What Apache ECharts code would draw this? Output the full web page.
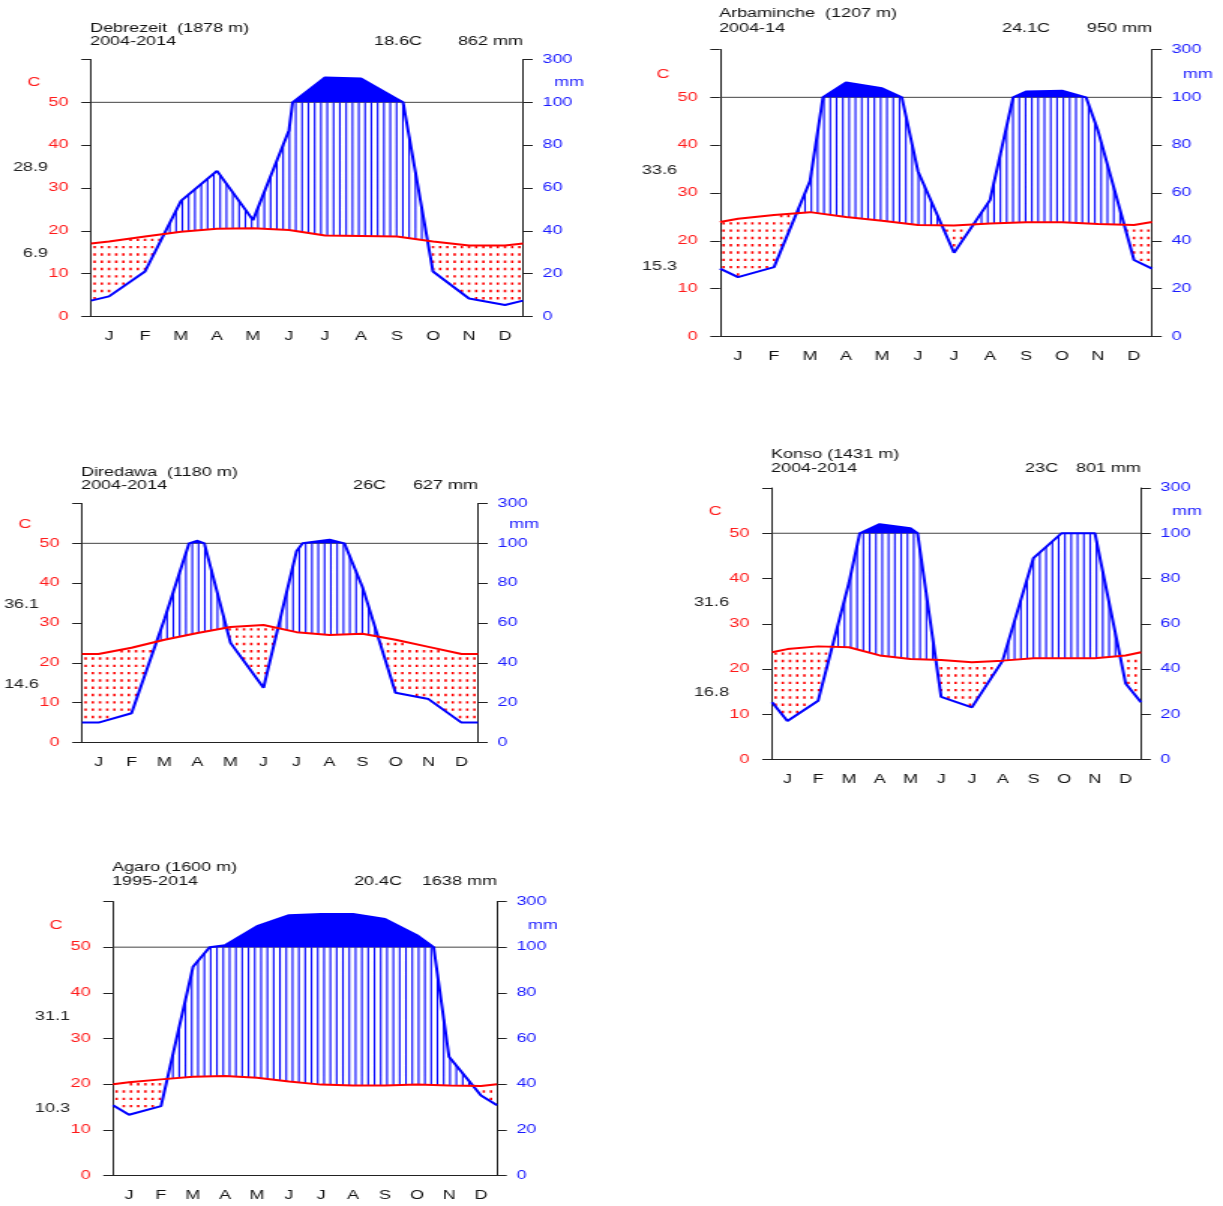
<!DOCTYPE html>
<html>
<head>
<meta charset="utf-8">
<title>Climate diagrams</title>
<script src="https://cdn.jsdelivr.net/npm/echarts@6/dist/echarts.min.js"></script>
<style>
  html, body { margin: 0; padding: 0; background: #fff; overflow: hidden; }
  /* the reference is stretched sideways, so draw narrow and widen */
  #main { width: 815px; height: 1206px; transform: scaleX(1.500613); transform-origin: 0 0; }
</style>
</head>
<body>
<div id="main"></div>
<script>
var months = ["J", "F", "M", "A", "M", "J", "J", "A", "S", "O", "N", "D"];

// monthly mean temperature (C) and precipitation (mm)
var debrezeitTemp = [17.5, 18.7, 19.8, 20.5, 20.6, 20.2, 18.9, 18.8, 18.7, 17.5, 16.6, 16.6];
var debrezeitPrec = [9.4, 21, 54, 68, 45, 87, 216, 211, 116, 21, 8.4, 5.4];
var arbamincheTemp = [24.6, 25.4, 26.0, 25.0, 24.2, 23.3, 23.2, 23.6, 23.9, 23.9, 23.5, 23.3];
var arbaminchePrec = [24.8, 29, 65, 162, 138, 69, 35, 57, 124, 128, 86, 32];
var diredawaTemp = [22.2, 23.8, 25.8, 27.5, 29.0, 29.5, 27.7, 27.0, 27.3, 25.8, 24.0, 22.2];
var diredawaPrec = [10, 14.7, 62, 113, 50, 27.5, 96, 118, 78, 25, 21.8, 10];
var konsoTemp = [24.4, 25.0, 24.8, 23.0, 22.2, 22.0, 21.5, 21.85, 22.4, 22.4, 22.4, 23.0];
var konsoPrec = [17, 26, 78, 140, 122, 27.7, 23, 43.7, 89, 101, 100, 33.6];
var agaroTemp = [20.4, 21.05, 21.6, 21.8, 21.4, 20.6, 19.9, 19.7, 19.7, 19.9, 19.7, 19.6];
var agaroPrec = [26.6, 30.4, 91.4, 108, 192, 240, 245, 245, 223, 152, 52, 35];

var stationNames = ["Debrezeit  (1878 m)", "Arbaminche  (1207 m)", "Diredawa  (1180 m)", "Konso (1431 m)", "Agaro (1600 m)"];
var stationYears = ["2004-2014", "2004-14", "2004-2014", "2004-2014", "1995-2014"];
var meanTemps = ["18.6C", "24.1C", "26C", "23C", "20.4C"];
var totalPrecs = ["862 mm", "950 mm", "627 mm", "801 mm", "1638 mm"];
var maxLabels = ["28.9", "33.6", "36.1", "31.6", "31.1"];
var minLabels = ["6.9", "15.3", "14.6", "16.8", "10.3"];

var temps = [debrezeitTemp, arbamincheTemp, diredawaTemp, konsoTemp, agaroTemp];
var precs = [debrezeitPrec, arbaminchePrec, diredawaPrec, konsoPrec, agaroPrec];

// layout, in pixels of the final picture
var SX = 1223 / 815;
var boxes = [
  { left: 91, right: 523, top: 59.5, bottom: 316.5, titleY: 27, subY: 40, tempX: 374 },
  { left: 720, right: 1152, top: 49.5, bottom: 336.5, titleY: 12, subY: 27, tempX: 1002 },
  { left: 82, right: 478, top: 503.5, bottom: 742.5, titleY: 471, subY: 484, tempX: 353 },
  { left: 772, right: 1141, top: 488, bottom: 759.5, titleY: 453, subY: 467, tempX: 1025 },
  { left: 113, right: 497, top: 901.5, bottom: 1175.5, titleY: 866, subY: 880, tempX: 354 }
];

var FONT = "'Liberation Sans', Arial, sans-serif";
var RED = "#ff1a1a";
var BLUE = "#1a1aff";

// Walter-Lieth: 2 mm = 1 C up to 100 mm, 20 mm = 1 C above
function scaleP(p) { return p <= 100 ? p / 2 : 50 + (p - 100) / 20; }
function unscaleP(v) { return v <= 50 ? v * 2 : 100 + (v - 50) * 20; }

// mid-month points plus the year ends (mean of Jan and Dec)
function extend(arr) {
  var edge = (arr[0] + arr[11]) / 2;
  var pts = [[0, edge]];
  arr.forEach(function (v, i) { pts.push([i + 0.5, v]); });
  pts.push([12, edge]);
  return pts;
}

// precipitation line, broken where it passes 100 mm
function precLine(arr) {
  var pts = extend(arr);
  var out = [];
  for (var i = 0; i < pts.length; i++) {
    if (i > 0) {
      var a = pts[i - 1], b = pts[i];
      if ((a[1] - 100) * (b[1] - 100) < 0) {
        var f = (100 - a[1]) / (b[1] - a[1]);
        out.push([a[0] + f * (b[0] - a[0]), 50]);
      }
    }
    out.push([pts[i][0], scaleP(pts[i][1])]);
  }
  return out;
}

function interp(pts, x) {
  for (var i = 1; i < pts.length; i++) {
    if (x <= pts[i][0]) {
      var a = pts[i - 1], b = pts[i];
      var f = (x - a[0]) / ((b[0] - a[0]) || 1);
      return a[1] + f * (b[1] - a[1]);
    }
  }
  return pts[pts.length - 1][1];
}

function makeRender(tLine, pLine) {
  return function (params, api) {
    var pxMonth = api.size([1, 0])[0];
    var pxDeg = api.size([0, 1])[1];
    var children = [];

    var a = api.coord([0, 50]), b = api.coord([12, 50]);
    children.push({ type: "line", shape: { x1: a[0], y1: a[1], x2: b[0], y2: b[1] },
      style: { stroke: "#444", lineWidth: 1 } });

    // very wet months: solid above 100 mm
    var poly = pLine.map(function (p) { return api.coord([p[0], Math.max(p[1], 50)]); });
    poly.push(api.coord([12, 50]));
    poly.push(api.coord([0, 50]));
    children.push({ type: "polygon", shape: { points: poly }, style: { fill: "#0000ff", stroke: "none" } });

    // humid: vertical hatching
    var step = 6.3 / SX / pxMonth;
    var d = "";
    for (var x = step / 2; x < 12; x += step) {
      var t = interp(tLine, x), p = interp(pLine, x);
      if (p > t) {
        var p1 = api.coord([x, t]), p2 = api.coord([x, Math.min(p, 50)]);
        d += "M" + p1[0] + " " + p1[1] + "L" + p2[0] + " " + p2[1];
      }
    }
    if (d) children.push({ type: "path", shape: { pathData: d }, style: { fill: "none", stroke: "#0000ff", lineWidth: 1.1 } });

    // arid: red dots
    var dx = 7.2 / SX / pxMonth, dy = 7.3 / pxDeg;
    var w = 2.4 / SX, h = 2.4;
    var dots = "";
    for (var x2 = dx / 2; x2 < 12; x2 += dx) {
      var t2 = interp(tLine, x2), pv = interp(pLine, x2);
      for (var y = dy / 2; y < t2 - 0.3; y += dy) {
        if (y > pv + 0.3) {
          var c = api.coord([x2, y]);
          dots += "M" + (c[0] - w / 2) + " " + (c[1] - h / 2) + "h" + w + "v" + h + "h" + (-w) + "Z";
        }
      }
    }
    if (dots) children.push({ type: "path", shape: { pathData: dots }, style: { fill: "#ff0000", stroke: "none" } });

    return { type: "group", children: children };
  };
}

var grid = [], xAxis = [], yAxis = [], series = [], graphic = [];

boxes.forEach(function (box, i) {
  var tLine = extend(temps[i]);
  var pLine = precLine(precs[i]);
  var yPix = function (v) { return box.top + (box.bottom - box.top) * (60 - v) / 60; };

  grid.push({
    left: box.left / SX, top: box.top,
    width: (box.right - box.left) / SX, height: box.bottom - box.top,
    containLabel: false, outerBoundsMode: "none"
  });

  xAxis.push({ type: "value", gridIndex: i, min: 0, max: 12, show: false });
  xAxis.push({
    type: "category", gridIndex: i, data: months, boundaryGap: true, position: "bottom",
    axisLine: { onZero: false, lineStyle: { color: "#222", width: 1 } },
    axisTick: { interval: 0, length: 6, lineStyle: { color: "#222" } },
    axisLabel: { interval: 0, margin: 14, fontSize: 12, color: "#111", fontFamily: FONT },
    splitLine: { show: false }
  });

  yAxis.push({
    type: "value", gridIndex: i, min: 0, max: 60, interval: 10, position: "left",
    axisLine: { show: true, onZero: false, lineStyle: { color: "#222" } },
    axisTick: { show: true, length: 6.5, lineStyle: { color: "#222" } },
    axisLabel: { margin: 15, fontSize: 12, color: RED, fontFamily: FONT,
      formatter: function (v) { return v >= 60 ? "" : String(v); } },
    splitLine: { show: false }
  });
  yAxis.push({
    type: "value", gridIndex: i, min: 0, max: 60, interval: 10, position: "right",
    axisLine: { show: true, onZero: false, lineStyle: { color: "#222" } },
    axisTick: { show: true, length: 6.5, lineStyle: { color: "#222" } },
    axisLabel: { margin: 13, fontSize: 12, color: BLUE, fontFamily: FONT,
      formatter: function (v) { return String(unscaleP(v)); } },
    splitLine: { show: false }
  });

  series.push({
    type: "custom", xAxisIndex: 2 * i, yAxisIndex: 2 * i, z: 2,
    data: [[6, 30]], renderItem: makeRender(tLine, pLine), silent: true
  });
  series.push({
    type: "line", xAxisIndex: 2 * i, yAxisIndex: 2 * i, z: 3, data: pLine,
    symbol: "none", lineStyle: { color: "#0000ff", width: 2 }, silent: true
  });
  series.push({
    type: "line", xAxisIndex: 2 * i, yAxisIndex: 2 * i, z: 4, data: tLine,
    symbol: "none", lineStyle: { color: "#ff0000", width: 2 }, silent: true
  });

  function txt(x, y, s, color, align) {
    graphic.push({
      type: "text", x: x / SX, y: y + 1.5, silent: true,
      style: { text: s, fill: color, font: "12px " + FONT,
        align: align, textAlign: align, verticalAlign: "middle", textVerticalAlign: "middle" }
    });
  }
  txt(box.left - 1, box.titleY, stationNames[i], "#111", "left");
  txt(box.left - 1, box.subY, stationYears[i], "#111", "left");
  txt(box.tempX, box.subY, meanTemps[i], "#111", "left");
  txt(box.right, box.subY, totalPrecs[i], "#111", "right");
  txt(box.left - 57, yPix(55), "C", RED, "center");
  txt(box.right + 46, yPix(55), "mm", BLUE, "center");
  txt(box.left - 43, yPix(35), maxLabels[i], "#222", "right");
  txt(box.left - 43, yPix(15), minLabels[i], "#222", "right");
});

var myChart = echarts.init(document.getElementById("main"));
myChart.setOption({
  backgroundColor: "#fff",
  animation: false,
  textStyle: { fontFamily: FONT },
  grid: grid,
  xAxis: xAxis,
  yAxis: yAxis,
  series: series,
  graphic: graphic
});
</script>
</body>
</html>
